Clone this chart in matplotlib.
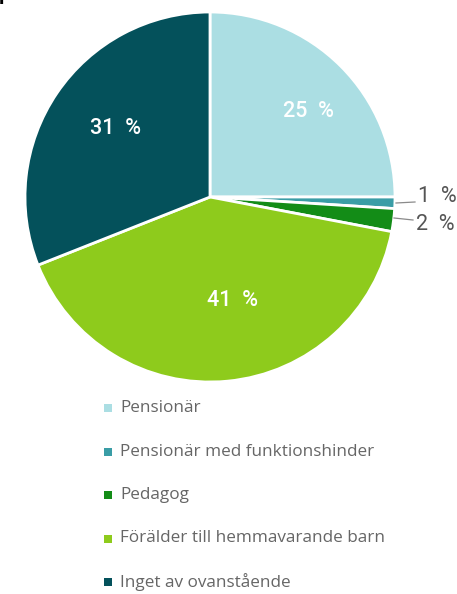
import matplotlib
matplotlib.use("Agg")
import matplotlib.pyplot as plt
from matplotlib.patches import Rectangle

plt.rcParams['font.family'] = ['Roboto', 'DejaVu Sans']

# Data
categories = ["Pensionär", "Pensionär med funktionshinder", "Pedagog",
              "Förälder till hemmavarande barn", "Inget av ovanstående"]
shares = [25, 1, 2, 41, 31]
colors = ["#abdee3", "#3a9da6", "#138c17", "#8ecb1c", "#04515b"]
# label placement inside the large slices (axes units, radius = 1)
inner_pos = {0: (0.53, 0.46), 3: (0.12, -0.56), 4: (-0.51, 0.37)}

W, H = 457, 594
fig = plt.figure(figsize=(W / 100, H / 100), dpi=100)

# Pie axes: centre (210, 197) px, radius 185 px
cx, cy, r = 210, 197, 185
ax = fig.add_axes([(cx - r) / W, (H - cy - r) / H, 2 * r / W, 2 * r / H])
wedges, _ = ax.pie(shares, colors=colors, startangle=90, counterclock=False,
                   radius=1, wedgeprops=dict(edgecolor="white", linewidth=2.0))
ax.set_xlim(-1, 1)
ax.set_ylim(-1, 1)
ax.set_aspect("equal")
ax.axis("off")

for i, (x, y) in inner_pos.items():
    ax.text(x, y, f"{shares[i]}  %", color="white", fontsize=15.5,
            fontweight="medium", ha="center", va="center")

# Overlay axes in pixel coordinates for callouts and legend
ov = fig.add_axes([0, 0, 1, 1])
ov.set_xlim(0, W)
ov.set_ylim(H, 0)
ov.axis("off")

# callouts for the thin slices
callouts = {1: ((396, 203), (415, 202), (418, 197)),
            2: ((394, 218), (413, 220), (416, 225))}
for i, ((x0, y0), (x1, y1), (tx, ty)) in callouts.items():
    ov.plot([x0, x1], [y0, y1], color="#8a8a8a", lw=0.9)
    ov.text(tx, ty, f"{shares[i]}  %", color="#555555", fontsize=15.5,
            ha="left", va="center")

# legend
for i, (lab, col) in enumerate(zip(categories, colors)):
    y = 408 + i * 43.5
    ov.add_patch(Rectangle((103.5, y - 4), 8, 8, color=col, lw=0))
    ov.text(120, y, lab, color="#666666", fontsize=12.3, ha="left", va="center",
            family=["Open Sans", "DejaVu Sans"])

# partial title glyph at the top edge
ov.text(-1, 8, "P", color="black", fontsize=14, fontweight="bold",
        ha="left", va="bottom")

fig.savefig("out.png", dpi=100)
